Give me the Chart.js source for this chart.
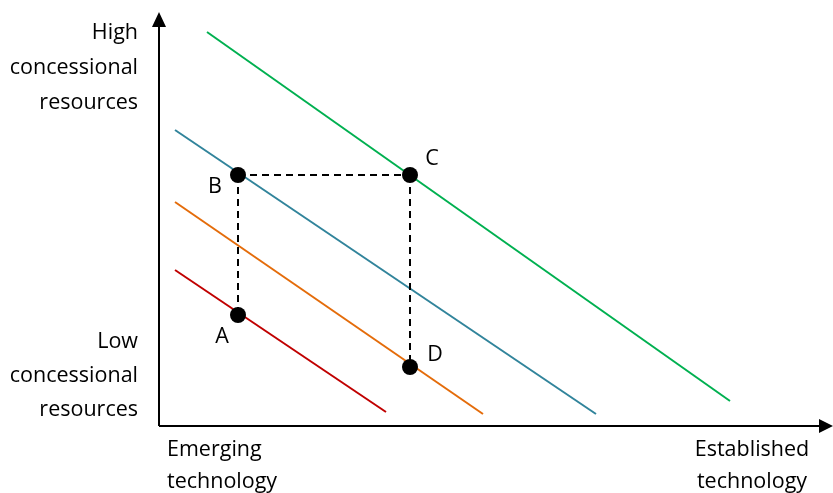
<!DOCTYPE html>
<html>
<head>
<meta charset="utf-8">
<script src="https://cdn.jsdelivr.net/npm/chart.js@4"></script>
<style>
  body { margin: 0; background: #fff; }
  #wrap { width: 833px; height: 493px; }
</style>
</head>
<body>
<div id="wrap"><canvas id="mychart"></canvas></div>
<script>
// lines (x = technology maturity, y = concessional resources)
const greenX = [48, 571]
const greenY = [394, 25]
const blueX = [16, 437]
const blueY = [296, 12]
const orangeX = [16, 324]
const orangeY = [224, 12]
const redX = [16, 227]
const redY = [156, 14]

// marked points
const pointNames = ['A', 'B', 'C', 'D']
const pointX = [79, 79, 251, 251]
const pointY = [111, 251, 251, 59]

const yTop = ['High', 'concessional', 'resources']
const yBottom = ['Low', 'concessional', 'resources']
const xLeft = ['Emerging', 'technology']
const xRight = ['Established', 'technology']

const toPts = (xs, ys) => xs.map((x, i) => ({ x: x, y: ys[i] }))
const pt = name => {
    const i = pointNames.indexOf(name)
    return { x: pointX[i], y: pointY[i] }
}

const lineSet = (xs, ys, color) => ({
    data: toPts(xs, ys),
    showLine: true,
    borderColor: color,
    borderWidth: 2,
    pointRadius: 0,
    order: 2
})
const dashSet = (a, b) => ({
    data: [pt(a), pt(b)],
    showLine: true,
    borderColor: '#000',
    borderWidth: 2,
    borderDash: [7, 5],
    pointRadius: 0,
    order: 1
})

const font = '21.5px "Open Sans"'

const decor = {
    id: 'decor',
    afterDraw(chart) {
        const c = chart.ctx
        const xs = chart.scales.x
        const ys = chart.scales.y
        const ox = xs.getPixelForValue(0)
        const oy = ys.getPixelForValue(0)
        c.save()
        c.strokeStyle = '#000'
        c.fillStyle = '#000'
        c.lineWidth = 2
        c.beginPath()
        c.moveTo(ox, oy)
        c.lineTo(ox, 26)
        c.moveTo(ox, oy)
        c.lineTo(822, oy)
        c.stroke()
        // arrow heads
        c.beginPath()
        c.moveTo(ox, 12); c.lineTo(ox - 7, 27); c.lineTo(ox + 7, 27); c.closePath()
        c.fill()
        c.beginPath()
        c.moveTo(833, oy); c.lineTo(819, oy - 7); c.lineTo(819, oy + 7); c.closePath()
        c.fill()

        c.font = font
        c.textBaseline = 'alphabetic'
        c.textAlign = 'right'
        yTop.forEach((t, i) => c.fillText(t, 138, 39 + i * 35))
        yBottom.forEach((t, i) => c.fillText(t, 138, 348 + i * 34))
        c.textAlign = 'left'
        xLeft.forEach((t, i) => c.fillText(t, 167, 456 + i * 32))
        c.textAlign = 'center'
        xRight.forEach((t, i) => c.fillText(t, 752, 456 + i * 32))

        // point labels
        const off = { A: [-16, 22], B: [-23, 12], C: [22, -16], D: [25, -12] }
        c.textBaseline = 'middle'
        pointNames.forEach((n, i) => {
            const px = xs.getPixelForValue(pointX[i])
            const py = ys.getPixelForValue(pointY[i])
            c.fillText(n, px + off[n][0], py + off[n][1])
        })
        c.restore()
    }
}

const ctx = document.getElementById('mychart')

const myChart = new Chart(ctx, {
    type: 'scatter',
    data: {
        datasets: [
            lineSet(greenX, greenY, '#00B050'),
            lineSet(blueX, blueY, '#31849B'),
            lineSet(orangeX, orangeY, '#E46C0A'),
            lineSet(redX, redY, '#C00000'),
            dashSet('B', 'C'),
            dashSet('B', 'A'),
            dashSet('C', 'D'),
            {
                data: toPts(pointX, pointY),
                pointRadius: 8,
                pointHoverRadius: 8,
                backgroundColor: '#000',
                borderColor: '#000',
                borderWidth: 0,
                order: 0
            }
        ]
    },
    options: {
        responsive: true,
        maintainAspectRatio: false,
        animation: false,
        layout: { autoPadding: false, padding: { left: 159, right: 0, top: 0, bottom: 67 } },
        scales: {
            x: { type: 'linear', min: 0, max: 674, display: false },
            y: { type: 'linear', min: 0, max: 426, display: false }
        },
        plugins: {
            legend: { display: false },
            tooltip: { enabled: false }
        },
        clip: false
    },
    plugins: [decor]
})
</script>
</body>
</html>
